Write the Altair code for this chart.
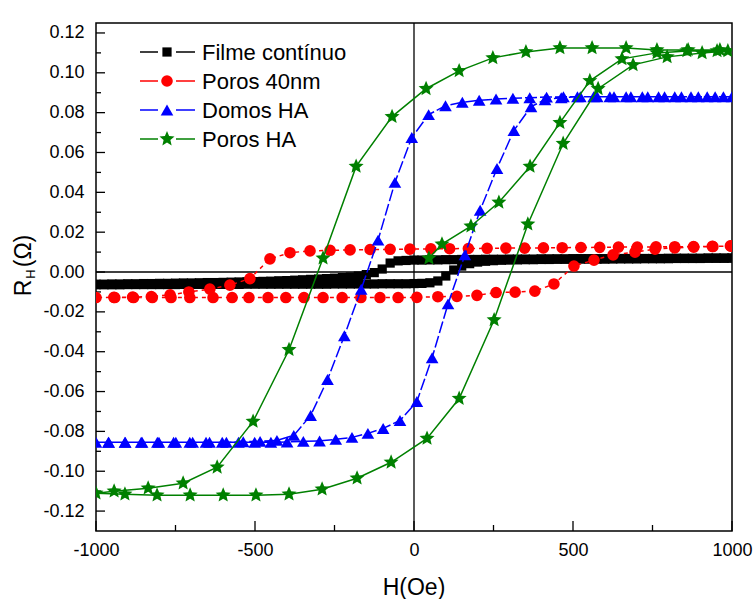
import altair as alt
import pandas as pd

# ---------------- data ----------------
# Filme continuo (black squares): descending sweep +1000 -> -1000, then ascending
FILME_DESC_H = [1000, 975, 950, 925, 900, 875, 850, 825, 800, 775, 750, 725, 700, 675, 650, 625, 600, 575, 550, 525,
                500, 475, 450, 425, 400, 375, 350, 325, 300, 275, 250, 225, 200, 175, 150, 125, 100, 75, 50, 25,
                0,
                -25, -50, -75, -100, -125, -150, -175, -200, -225, -250, -275, -300, -325, -350, -375, -400, -425, -450, -475, -500,
                -525, -550, -575, -600, -625, -650, -675, -700, -725, -750, -775, -800, -825, -850, -875, -900, -925, -950, -975, -1000]
FILME_DESC_R = [0.0070, 0.0070, 0.0070, 0.0070, 0.0069, 0.0069, 0.0069, 0.0069, 0.0069, 0.0068, 0.0068, 0.0068, 0.0068, 0.0068, 0.0068, 0.0067, 0.0067, 0.0067, 0.0067, 0.0067,
                0.0067, 0.0066, 0.0066, 0.0066, 0.0066, 0.0065, 0.0065, 0.0065, 0.0065, 0.0064, 0.0064, 0.0064, 0.0063, 0.0063, 0.0063, 0.0062, 0.0062, 0.0061, 0.0061, 0.0060,
                0.0060,
                0.0058, 0.0056, 0.0045, 0.0015, -0.0003, -0.0013, -0.0020, -0.0025, -0.0028, -0.0031, -0.0033, -0.0035, -0.0037, -0.0039, -0.0041, -0.0043, -0.0044, -0.0046, -0.0047, -0.0048,
                -0.0049, -0.0050, -0.0051, -0.0052, -0.0053, -0.0053, -0.0054, -0.0055, -0.0055, -0.0056, -0.0057, -0.0057, -0.0058, -0.0058, -0.0059, -0.0059, -0.0060, -0.0060, -0.0061, -0.0061]
FILME_ASC_H = [-1000, -975, -950, -925, -900, -875, -850, -825, -800, -775, -750, -725, -700, -675, -650, -625, -600, -575, -550, -525,
               -500, -475, -450, -425, -400, -375, -350, -325, -300, -275, -250, -225, -200, -175, -150, -125, -100, -75, -50, -25,
               0,
               25, 50, 75, 100, 125, 150, 175, 200, 225, 250, 275, 300, 325, 350, 375, 400, 425, 450, 475, 500,
               525, 550, 575, 600, 625, 650, 675, 700, 725, 750, 775, 800, 825, 850, 875, 900, 925, 950, 975, 1000]
FILME_ASC_R = [-0.0064, -0.0064, -0.0064, -0.0064, -0.0063, -0.0063, -0.0063, -0.0063, -0.0063, -0.0063, -0.0063, -0.0062, -0.0062, -0.0062, -0.0062, -0.0062, -0.0062, -0.0062, -0.0062, -0.0061,
               -0.0061, -0.0061, -0.0061, -0.0061, -0.0061, -0.0061, -0.0061, -0.0061, -0.0061, -0.0061, -0.0060, -0.0060, -0.0060, -0.0060, -0.0060, -0.0060, -0.0059, -0.0059, -0.0059, -0.0059,
               -0.0058,
               -0.0057, -0.0054, -0.0045, -0.0020, 0.0010, 0.0030, 0.0042, 0.0050, 0.0054, 0.0057, 0.0059, 0.0060, 0.0061, 0.0062, 0.0062, 0.0063, 0.0063, 0.0064, 0.0064, 0.0064,
               0.0065, 0.0065, 0.0065, 0.0065, 0.0066, 0.0066, 0.0066, 0.0066, 0.0067, 0.0067, 0.0067, 0.0067, 0.0068, 0.0068, 0.0068, 0.0068, 0.0069, 0.0069, 0.0069, 0.0070]

# Poros 40nm (red circles)
P40_DESC_H = [997, 938, 879, 820, 761, 702, 643, 584, 525, 466, 407, 348, 289, 230, 171, 112, 53, -13, -75, -138,
              -201, -264, -327, -390, -453, -516, -579, -642, -708, -767, -826, -885, -944]
P40_DESC_R = [0.0130, 0.0129, 0.0128, 0.0127, 0.0126, 0.0125, 0.0125, 0.0124, 0.0123, 0.0122, 0.0121, 0.0120, 0.0120, 0.0119, 0.0118, 0.0117, 0.0116, 0.0115, 0.0114, 0.0113,
              0.0111, 0.0109, 0.0106, 0.0097, 0.0066, -0.0033, -0.0066, -0.0086, -0.0100, -0.0115, -0.0123, -0.0126, -0.0127]
P40_ASC_H = [-1000, -941, -882, -823, -764, -705, -632, -572, -519, -459, -403, -346, -286, -226, -167, -107, -50,
             9, 75, 135, 198, 258, 318, 380, 440, 503, 566, 626, 695, 758, 820, 880, 940, 995]
P40_ASC_R = [-0.0128, -0.0128, -0.0128, -0.0128, -0.0128, -0.0128, -0.0128, -0.0128, -0.0128, -0.0128, -0.0128, -0.0128, -0.0128, -0.0128, -0.0128, -0.0128, -0.0128,
             -0.0127, -0.0124, -0.0122, -0.0117, -0.0103, -0.0101, -0.0096, -0.0060, 0.0030, 0.0060, 0.0086, 0.0100, 0.0115, 0.0121, 0.0125, 0.0128, 0.0131]

# Domos HA (blue triangles)
DHA_DESC_H = [1000, 947, 894, 841, 788, 735, 682, 629, 576, 523, 470,
              417, 364, 311, 258, 205, 152, 99, 46, -7, -60, -113, -166, -219, -272, -325, -378, -431, -484, -537, -590,
              -643, -696, -749, -802, -855, -908, -961, -1000]
DHA_DESC_R = [0.088, 0.088, 0.088, 0.088, 0.088, 0.088, 0.088, 0.088, 0.088, 0.088, 0.088,
              0.0878, 0.0875, 0.0872, 0.0868, 0.0862, 0.0852, 0.0835, 0.079, 0.0675, 0.045, 0.016, -0.0086, -0.032, -0.054, -0.072, -0.082, -0.0845, -0.0850, -0.0852, -0.0854,
              -0.0855, -0.0855, -0.0855, -0.0855, -0.0855, -0.0855, -0.0855, -0.0855]
DHA_ASC_H = [-960, -909, -858, -807, -756, -705, -654, -603, -552, -501, -450,
             -399, -348, -297, -246, -195, -145, -97, -44, 9, 57, 107, 160, 208, 261, 314, 368, 412, 463, 514,
             565, 616, 667, 718, 769, 820, 871, 922, 973]
DHA_ASC_R = [-0.0855, -0.0855, -0.0855, -0.0855, -0.0855, -0.0855, -0.0855, -0.0855, -0.0855, -0.0855, -0.0855,
             -0.0853, -0.0850, -0.0848, -0.0840, -0.083, -0.081, -0.0785, -0.0745, -0.065, -0.043, -0.016, 0.0086, 0.031, 0.052, 0.071, 0.083, 0.0865, 0.0875, 0.088,
             0.088, 0.088, 0.088, 0.088, 0.088, 0.088, 0.088, 0.088, 0.088]

# Poros HA (green stars): initial curve, descending sweep, ascending sweep
PHA_INIT_H = [47, 88, 179, 267, 365, 459, 553, 654, 764, 858, 953]
PHA_INIT_R = [0.007, 0.014, 0.023, 0.035, 0.053, 0.075, 0.096, 0.107, 0.110, 0.111, 0.111]
PHA_DESC_H = [962, 862, 764, 667, 560, 459, 352, 248, 142, 38, -69, -182, -286, -393, -506, -619, -726, -836, -943]
PHA_DESC_R = [0.1115, 0.1115, 0.1115, 0.1125, 0.1125, 0.1125, 0.1105, 0.1075, 0.101, 0.092, 0.078, 0.053, 0.007, -0.039, -0.075, -0.098, -0.106, -0.1085, -0.110]
PHA_ASC_H = [-1000, -909, -808, -704, -600, -497, -393, -289, -179, -72, 41, 142, 252, 358, 469, 579, 689, 796, 906, 987]
PHA_ASC_R = [-0.111, -0.1115, -0.112, -0.112, -0.112, -0.112, -0.1115, -0.109, -0.1035, -0.0955, -0.0835, -0.0635, -0.024, 0.024, 0.0645, 0.092, 0.104, 0.108, 0.110, 0.111]

NAMES = ["Filme contínuo", "Poros 40nm", "Domos HA", "Poros HA"]
X_MAJOR = [-1000, -500, 0, 500, 1000]
X_MINOR = [-750, -250, 250, 750]
Y_MAJOR = [-0.12, -0.10, -0.08, -0.06, -0.04, -0.02, 0.0, 0.02, 0.04, 0.06, 0.08, 0.10, 0.12]
Y_MINOR = [-0.11, -0.09, -0.07, -0.05, -0.03, -0.01, 0.01, 0.03, 0.05, 0.07, 0.09, 0.11]

# ---------------- chart ----------------
W, H = 636, 508
FONT = "Liberation Sans"
STAR = ("M0,-1L0.2645,-0.3641L0.9511,-0.309L0.428,0.1391L0.5878,0.809L0,0.45"
        "L-0.5878,0.809L-0.428,0.1391L-0.9511,-0.309L-0.2645,-0.3641Z")

xs = alt.Scale(domain=[-1000, 1000], nice=False, zero=False)
ys = alt.Scale(domain=[-0.13, 0.125], nice=False, zero=False)


def sdf(hs, rs):
    return pd.DataFrame({"H": hs, "R": rs, "i": list(range(len(hs)))})


series = [
    (sdf(FILME_DESC_H + FILME_ASC_H, FILME_DESC_R + FILME_ASC_R), "#000000", "square", 85, None, 1.2),
    (sdf(P40_DESC_H + P40_ASC_H, P40_DESC_R + P40_ASC_R), "#ff0000", "circle", 135, [4, 4], 1.5),
    (sdf(DHA_DESC_H + DHA_ASC_H, DHA_DESC_R + DHA_ASC_R), "#0000ff", "triangle-up", 160, [12, 3], 1.5),
    (sdf(PHA_INIT_H + PHA_DESC_H + PHA_ASC_H, PHA_INIT_R + PHA_DESC_R + PHA_ASC_R), "#008000", STAR, 250, None, 1.5),
]

x_axis = alt.Axis(values=X_MAJOR, labelExpr="(datum.value < 0 ? '-' : '') + format(abs(datum.value), 'd')",
                  ticks=False, domain=False, grid=False, title=None, labelFont=FONT, labelFontSize=18,
                  labelColor="black", labelPadding=10, labelFlush=False, labelOverlap=False)
y_axis = alt.Axis(values=Y_MAJOR, labelExpr="(datum.value < 0 ? '-' : '') + format(abs(datum.value), '.2f')",
                  ticks=False, domain=False, grid=False, title=None, labelFont=FONT, labelFontSize=18,
                  labelColor="black", labelPadding=12, labelFlush=False, labelOverlap=False)

one = pd.DataFrame({"a": [0]})
zero_df = pd.DataFrame({"v": [0.0]})

layers = []
# zero lines, carrying the axes
layers.append(alt.Chart(zero_df).mark_rule(color="black", strokeWidth=1.3).encode(
    x=alt.X("v:Q", scale=xs, axis=x_axis)))
layers.append(alt.Chart(zero_df).mark_rule(color="black", strokeWidth=1.3).encode(
    y=alt.Y("v:Q", scale=ys, axis=y_axis)))

# inward ticks
layers.append(alt.Chart(pd.DataFrame({"v": Y_MAJOR})).mark_rule(color="black", strokeWidth=1.3).encode(
    y=alt.Y("v:Q", scale=ys, axis=None), x=alt.value(0), x2=alt.value(9)))
layers.append(alt.Chart(pd.DataFrame({"v": Y_MINOR})).mark_rule(color="black", strokeWidth=1.3).encode(
    y=alt.Y("v:Q", scale=ys, axis=None), x=alt.value(0), x2=alt.value(5)))
layers.append(alt.Chart(pd.DataFrame({"v": X_MAJOR})).mark_rule(color="black", strokeWidth=1.3).encode(
    x=alt.X("v:Q", scale=xs, axis=None), y=alt.value(H), y2=alt.value(H - 10)))
layers.append(alt.Chart(pd.DataFrame({"v": X_MINOR})).mark_rule(color="black", strokeWidth=1.3).encode(
    x=alt.X("v:Q", scale=xs, axis=None), y=alt.value(H), y2=alt.value(H - 6)))

# data series
for df, col, shape, size, dash, sw in series:
    lkw = dict(color=col, strokeWidth=sw, clip=True)
    if dash:
        lkw["strokeDash"] = dash
    layers.append(alt.Chart(df).mark_line(**lkw).encode(
        x=alt.X("H:Q", scale=xs, axis=None), y=alt.Y("R:Q", scale=ys, axis=None), order="i:Q"))
    layers.append(alt.Chart(df).mark_point(shape=shape, filled=True, size=size, color=col, opacity=1,
                                           strokeWidth=0, clip=True).encode(
        x=alt.X("H:Q", scale=xs, axis=None), y=alt.Y("R:Q", scale=ys, axis=None)))

# legend
for k, (name, (df, col, shape, size, dash, sw)) in enumerate(zip(NAMES, series)):
    ly = 29 + 29 * k
    layers.append(alt.Chart(one).mark_rule(color=col, strokeWidth=1.5).encode(
        x=alt.value(44), x2=alt.value(62), y=alt.value(ly)))
    layers.append(alt.Chart(one).mark_rule(color=col, strokeWidth=1.5).encode(
        x=alt.value(80), x2=alt.value(99), y=alt.value(ly)))
    layers.append(alt.Chart(one).mark_point(shape=shape, filled=True, size=size, color=col, opacity=1,
                                            strokeWidth=0).encode(x=alt.value(71), y=alt.value(ly)))
    layers.append(alt.Chart(one).mark_text(text=name, font=FONT, fontSize=22, color="black", align="left",
                                           baseline="middle").encode(x=alt.value(106), y=alt.value(ly + 1)))

# axis titles
layers.append(alt.Chart(one).mark_text(text="H(Oe)", font=FONT, fontSize=23, color="black", align="center",
                                       baseline="alphabetic").encode(x=alt.value(318), y=alt.value(572)))
layers.append(alt.Chart(one).mark_text(text="R", font=FONT, fontSize=23, color="black", align="center",
                                       baseline="alphabetic", angle=270).encode(x=alt.value(-65), y=alt.value(265)))
layers.append(alt.Chart(one).mark_text(text="H", font=FONT, fontSize=13, color="black", align="center",
                                       baseline="alphabetic", angle=270).encode(x=alt.value(-61), y=alt.value(251)))
layers.append(alt.Chart(one).mark_text(text="(Ω)", font=FONT, fontSize=23, color="black", align="center",
                                       baseline="alphabetic", angle=270).encode(x=alt.value(-65), y=alt.value(228)))

chart = alt.layer(*layers).resolve_axis(x="independent", y="independent").properties(
    width=W, height=H,
    padding={"left": 96, "top": 23, "right": 22, "bottom": 68},
    autosize=alt.AutoSizeParams(type="none"),
    background="white",
).configure_view(stroke="black", strokeWidth=1.5)

chart.save("out.html", embed_options={"renderer": "svg", "actions": False})
